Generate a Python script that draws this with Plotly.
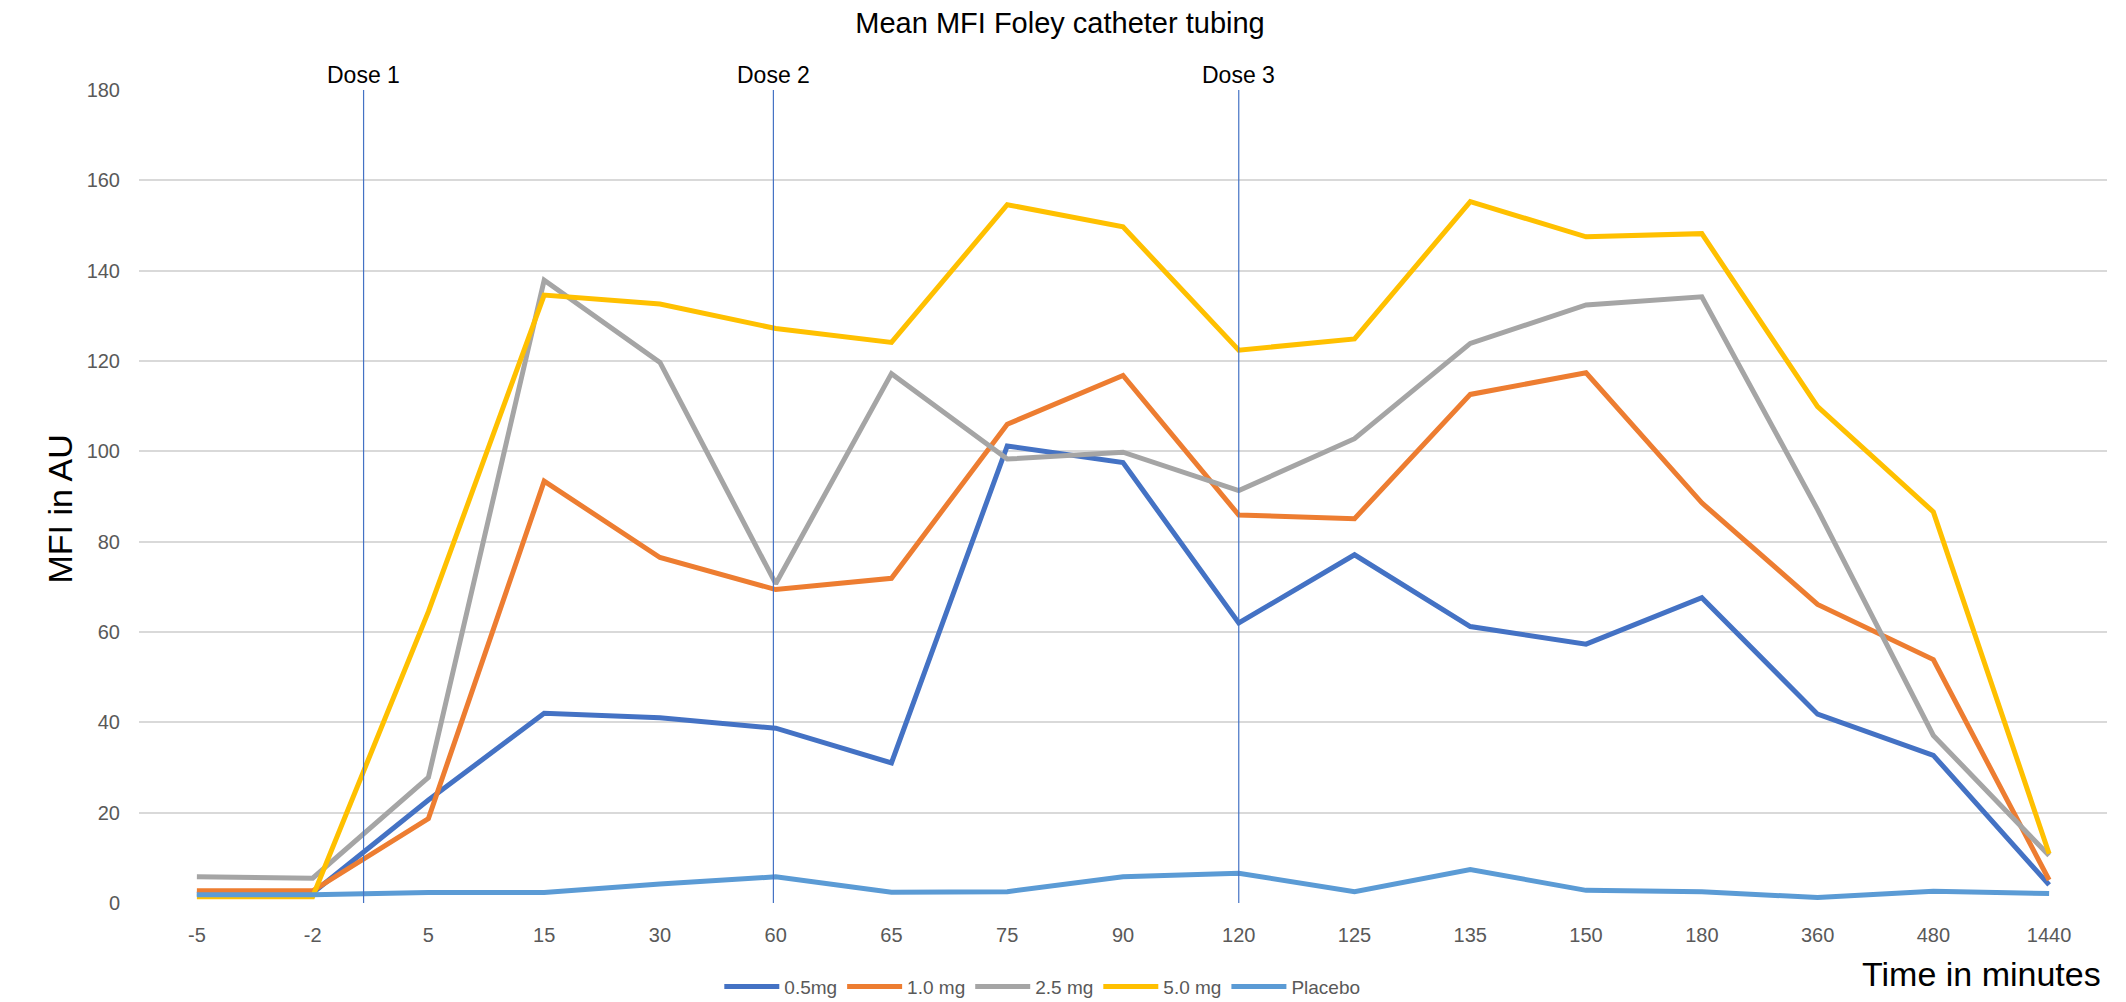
import plotly.graph_objects as go

categories = ["-5", "-2", "5", "15", "30", "60", "65", "75", "90", "120",
              "125", "135", "150", "180", "360", "480", "1440"]

mg05 = [2.0, 2.2, 22.8, 42.0, 41.0, 38.7, 31.0, 101.2, 97.5, 62.0,
        77.1, 61.2, 57.3, 67.6, 41.8, 32.7, 4.0]
mg10 = [2.7, 2.7, 18.7, 93.4, 76.5, 69.4, 71.9, 106.0, 116.8, 85.9,
        85.1, 112.6, 117.4, 88.6, 66.1, 53.9, 5.1]
mg25 = [5.8, 5.5, 27.8, 137.9, 119.7, 70.7, 117.2, 98.3, 99.8, 91.3,
        102.8, 123.9, 132.4, 134.2, 87.1, 37.1, 10.5]
mg50 = [1.4, 1.4, 64.5, 134.6, 132.6, 127.2, 124.1, 154.6, 149.7, 122.4,
        124.9, 155.3, 147.5, 148.2, 109.9, 86.6, 10.9]
placebo = [1.8, 1.8, 2.3, 2.3, 4.2, 5.8, 2.4, 2.5, 5.8, 6.6,
           2.5, 7.4, 2.8, 2.5, 1.2, 2.6, 2.1]

series_names = ["0.5mg", "1.0 mg", "2.5 mg", "5.0 mg", "Placebo"]
series_values = [mg05, mg10, mg25, mg50, placebo]
series_colors = ["#4472C4", "#ED7D31", "#A5A5A5", "#FFC000", "#5B9BD5"]

dose_labels = ["Dose 1", "Dose 2", "Dose 3"]
dose_positions = [1.44, 4.98, 9]  # category index positions

y_ticks = [0, 20, 40, 60, 80, 100, 120, 140, 160, 180]

FONT = "Liberation Sans Narrow, Liberation Sans, Arial, sans-serif"

fig = go.Figure()
for name, vals, col in zip(series_names, series_values, series_colors):
    fig.add_trace(go.Scatter(
        x=categories, y=vals, mode="lines", name=name,
        line=dict(color=col, width=5),
    ))

for lbl, pos in zip(dose_labels, dose_positions):
    fig.add_shape(type="line", xref="x", yref="y", x0=pos, x1=pos, y0=0, y1=180,
                  line=dict(color="#4472C4", width=1.2), layer="above")
    fig.add_annotation(x=pos, y=180, xref="x", yref="y", text=lbl,
                       showarrow=False, yanchor="bottom", yshift=0,
                       font=dict(family=FONT, size=23, color="#000000"))

fig.add_annotation(xref="paper", yref="paper", x=-0.0513, y=0.484,
                   text="MFI in AU", textangle=-90, showarrow=False,
                   font=dict(family=FONT, size=34, color="#000000"))
fig.add_annotation(xref="paper", yref="paper", x=0.998, y=-0.0873,
                   text="Time in minutes", showarrow=False,
                   xanchor="right", yanchor="middle",
                   font=dict(family=FONT, size=34, color="#000000"))

fig.update_layout(
    width=2126, height=1002,
    paper_bgcolor="white", plot_bgcolor="white",
    margin=dict(l=131, r=27, t=82, b=107, autoexpand=False),
    title=dict(text="Mean MFI Foley catheter tubing", x=0.468, xref="paper",
               xanchor="center", y=0.985, yanchor="middle",
               font=dict(family=FONT, size=29, color="#000000")),
    font=dict(family=FONT),
    showlegend=True,
    legend=dict(orientation="h", x=0.459, xanchor="center", y=-0.103,
                yanchor="middle", font=dict(family=FONT, size=19, color="#595959"),
                itemwidth=55, bgcolor="rgba(0,0,0,0)"),
    xaxis=dict(type="category", categoryorder="array", categoryarray=categories,
               range=[-0.5, 16.5], showgrid=False, zeroline=False, showline=False,
               ticks="", tickfont=dict(family=FONT, size=20, color="#595959"),
               ticklabelstandoff=18),
    yaxis=dict(range=[0, 180], tickvals=y_ticks, showgrid=True,
               gridcolor="#D9D9D9", gridwidth=1.8, zeroline=False, showline=False,
               ticks="", tickfont=dict(family=FONT, size=20, color="#595959"),
               ticklabelstandoff=18),
)

fig.write_html("out.html")
